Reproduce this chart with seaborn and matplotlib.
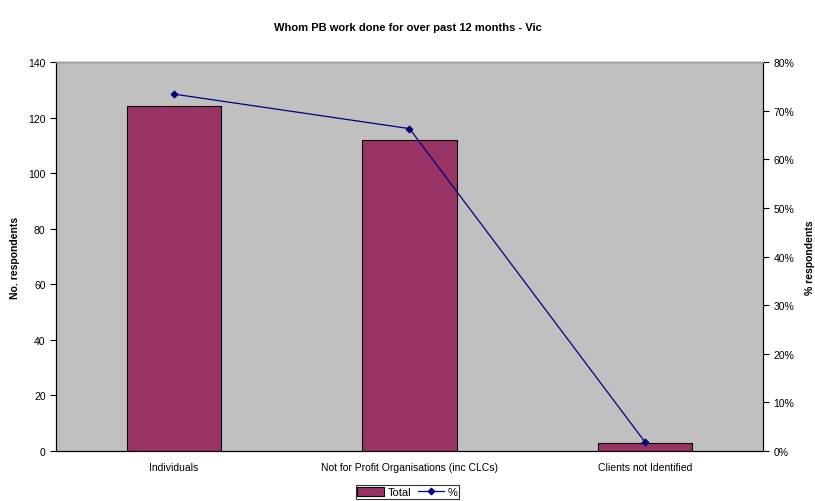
import matplotlib
matplotlib.use("Agg")
import matplotlib.pyplot as plt
import seaborn as sns
import pandas as pd
from matplotlib.ticker import PercentFormatter, FixedLocator

# ============================
# Data
# ============================
categories = ["Individuals", "Not for Profit Organisations (inc CLCs)", "Clients not Identified"]
totals = [124, 112, 3]
percents = [73.4, 66.3, 1.8]

df = pd.DataFrame({"category": categories, "total": totals, "pct": percents})

# ============================
# Style
# ============================
sns.set_style("white")
plt.rcParams["font.family"] = ["Liberation Sans", "DejaVu Sans"]
plt.rcParams["font.size"] = 7.5
plt.rcParams["text.color"] = "black"
plt.rcParams["axes.labelcolor"] = "black"

bar_color = "#993366"
line_color = "#000080"

fig = plt.figure(figsize=(8.15, 5.02), dpi=100)
ax = fig.add_axes([0.0687, 0.0996, 0.8675, 0.7749])
ax.set_facecolor("#c0c0c0")

sns.barplot(data=df, x="category", y="total", color=bar_color, width=0.4,
            edgecolor="black", linewidth=0.8, saturation=1, ax=ax, label="Total")

ax2 = ax.twinx()
sns.lineplot(data=df, x="category", y="pct", color=line_color, marker="D",
             markersize=3.5, markeredgecolor=line_color, linewidth=0.9, sort=False,
             ax=ax2, label="%")

# axes limits and ticks
ax.set_xlim(-0.5, 2.5)
ax.set_ylim(0, 140)
ax.set_yticks(range(0, 141, 20))
ax2.set_ylim(0, 80)
ax2.set_yticks(range(0, 81, 10))
ax2.yaxis.set_major_formatter(PercentFormatter(decimals=0))

ax.set_xlabel("")
ax.set_ylabel("No. respondents", fontweight="bold", labelpad=6)
ax2.set_ylabel("% respondents", fontweight="bold", labelpad=8)

# category boundary ticks like the spreadsheet chart
ax.xaxis.set_minor_locator(FixedLocator([0.5, 1.5]))
ax.tick_params(axis="x", which="major", length=0, pad=8, colors="black")
ax.tick_params(axis="x", which="minor", length=4, direction="out", color="black", width=0.8)
ax.tick_params(axis="y", length=4, direction="out", color="black", width=0.8, colors="black")
ax2.tick_params(axis="y", length=4, direction="out", color="black", width=0.8, colors="black")

for a in (ax, ax2):
    for side in ["left", "right", "bottom"]:
        a.spines[side].set_color("black")
        a.spines[side].set_linewidth(0.8)
    a.spines["top"].set_color("#999999")
    a.spines["top"].set_linewidth(1.0)

fig.suptitle("Whom PB work done for over past 12 months - Vic", fontweight="bold",
             fontsize=8, y=0.955)

# combined legend below plot
h1, l1 = ax.get_legend_handles_labels()
h2, l2 = ax2.get_legend_handles_labels()
if ax2.get_legend() is not None:
    ax2.get_legend().remove()
if ax.get_legend() is not None:
    ax.get_legend().remove()
leg = fig.legend(h1 + h2, l1 + l2, loc="center", bbox_to_anchor=(0.5, 0.018), ncol=2,
                 frameon=True, fancybox=False, edgecolor="black", fontsize=8,
                 handlelength=2.4, handleheight=0.9, handletextpad=0.3,
                 columnspacing=0.6, borderpad=0.15, borderaxespad=0)
leg.get_frame().set_linewidth(0.8)

fig.savefig("out.png", dpi=100)
